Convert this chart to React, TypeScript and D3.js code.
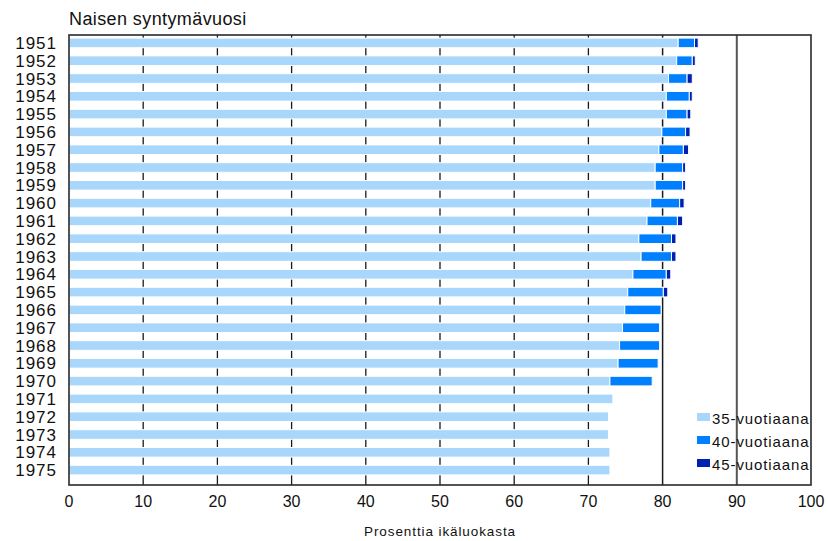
import React from "react";
import * as d3 from "d3";

const years = [
  "1951", "1952", "1953", "1954", "1955", "1956", "1957", "1958", "1959", "1960",
  "1961", "1962", "1963", "1964", "1965", "1966", "1967", "1968", "1969", "1970",
  "1971", "1972", "1973", "1974", "1975",
];
// cumulative share (%) of the cohort with a child by age
const by35 = [
  82.1, 81.9, 80.8, 80.5, 80.5, 79.9, 79.5, 79.0, 79.0, 78.4,
  77.9, 76.8, 77.1, 76.0, 75.3, 74.9, 74.6, 74.2, 74.0, 72.9,
  73.3, 72.7, 72.7, 72.9, 72.9,
];
const by40: (number | null)[] = [
  84.3, 84.0, 83.3, 83.6, 83.3, 83.1, 82.8, 82.7, 82.7, 82.3,
  82.0, 81.2, 81.2, 80.5, 80.1, 79.8, 79.6, 79.6, 79.4, 78.6,
  null, null, null, null, null,
];
const by45: (number | null)[] = [
  84.8, 84.4, 84.0, 84.0, 83.8, 83.7, 83.5, 83.1, 83.1, 82.9,
  82.7, 81.8, 81.8, 81.1, 80.7, null, null, null, null, null,
  null, null, null, null, null,
];
const xTicks = [0, 10, 20, 30, 40, 50, 60, 70, 80, 90, 100];
const seriesNames = ["35-vuotiaana", "40-vuotiaana", "45-vuotiaana"];
const colors = ["#a9d6fb", "#0080ff", "#0020b4"];
const titleText = "Naisen syntymävuosi";
const xTitle = "Prosenttia ikäluokasta";

const W = 828;
const H = 541;
const L = 69;
const R = 811;
const T = 35;
const B = 485;

export default function App() {
  const x = d3.scaleLinear().domain([0, 100]).range([L, R]);
  const y = d3.scaleBand<string>().domain(years).range([34, 479]).paddingInner(0.46).paddingOuter(0.23);
  const font = "'Liberation Sans', Arial, sans-serif";

  const segments: { key: string; x0: number; x1: number; yy: number; c: string }[] = [];
  years.forEach((yr, i) => {
    const vals = [by35[i], by40[i], by45[i]];
    let prev = 0;
    vals.forEach((v, k) => {
      if (v == null) return;
      segments.push({ key: yr + "-" + k, x0: x(prev), x1: x(v), yy: y(yr)!, c: colors[k] });
      prev = v;
    });
  });

  return (
    <svg width={W} height={H} style={{ position: "absolute", left: 0, top: 0, background: "#fff" }}>
      <text x={L} y={25} fontFamily={font} fontSize={18} letterSpacing={0.4} fill="#111">
        {titleText}
      </text>
      {xTicks.slice(1, -1).map((t) => (
        <line
          key={t}
          x1={x(t)}
          x2={x(t)}
          y1={T}
          y2={B}
          stroke={t === 90 ? "#555" : "#1a1a1a"}
          strokeWidth={t === 90 ? 2 : t === 80 ? 1.5 : 1.3}
        />
      ))}
      {segments.map((s) => (
        <rect
          key={s.key}
          x={s.x0}
          y={s.yy}
          width={Math.max(0, s.x1 - s.x0)}
          height={y.bandwidth()}
          fill={s.c}
          stroke="#fff"
          strokeWidth={1}
        />
      ))}
      <rect x={L} y={T} width={R - L} height={B - T} fill="none" stroke="#2a2a2a" strokeWidth={1.6} />
      {years.map((yr) => (
        <text
          key={yr}
          x={L - 12}
          y={y(yr)! + y.bandwidth() / 2 + 6}
          textAnchor="end"
          fontFamily={font}
          fontSize={17}
          letterSpacing={1}
          fill="#111"
        >
          {yr}
        </text>
      ))}
      {xTicks.map((t) => (
        <text key={t} x={x(t)} y={507} textAnchor="middle" fontFamily={font} fontSize={16} fill="#111">
          {t}
        </text>
      ))}
      <text x={(L + R) / 2} y={536} textAnchor="middle" fontFamily={font} fontSize={13.5} letterSpacing={0.9} fill="#111">
        {xTitle}
      </text>
      {seriesNames.map((n, i) => (
        <g key={n} transform={`translate(697, ${413 + i * 23})`}>
          <rect x={0} y={0} width={13} height={8} fill={colors[i]} />
          <text x={15} y={11} fontFamily={font} fontSize={15} letterSpacing={0.9} fill="#111">
            {n}
          </text>
        </g>
      ))}
    </svg>
  );
}
